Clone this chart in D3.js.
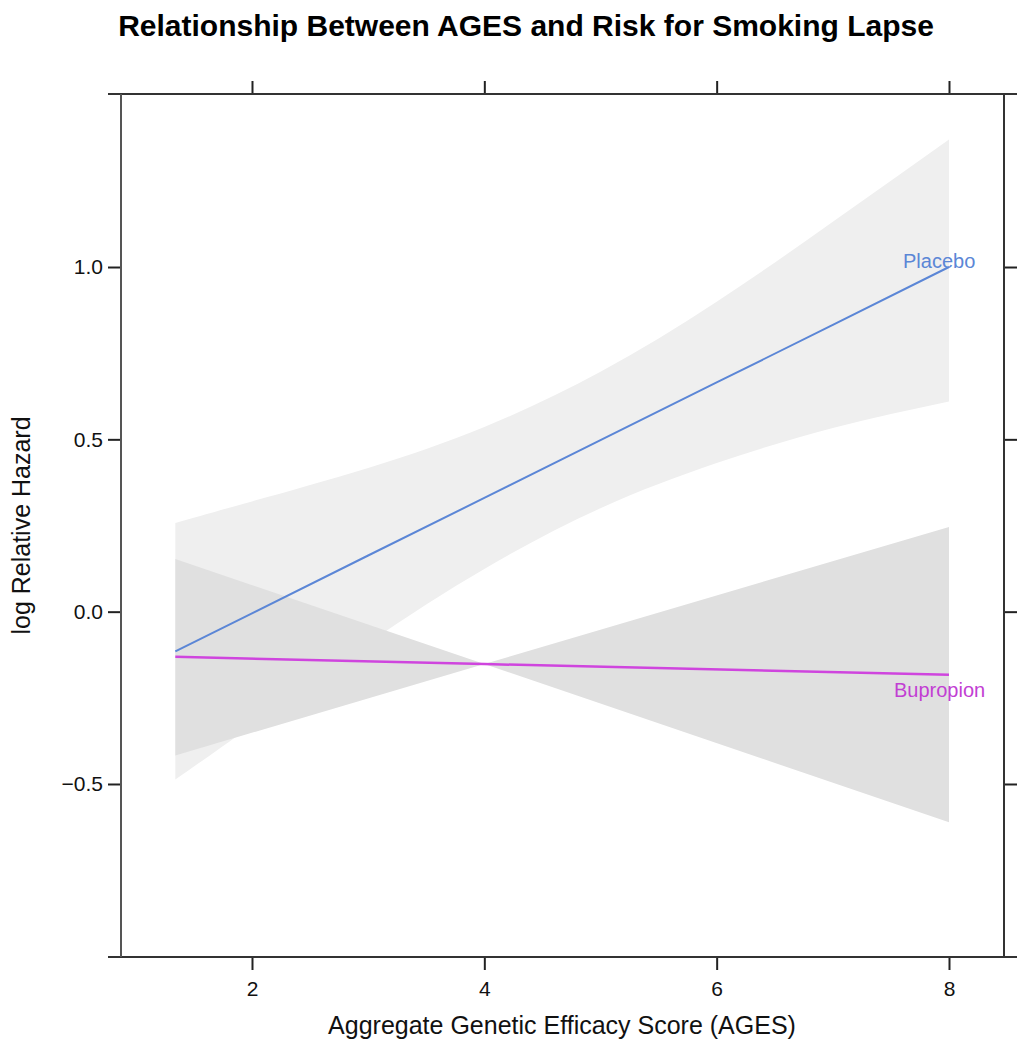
<!DOCTYPE html>
<html>
<head>
<meta charset="utf-8">
<script src="https://cdn.jsdelivr.net/npm/d3@7"></script>
<style>
  html, body { margin: 0; padding: 0; background: #fff; }
  svg { display: block; font-family: "Liberation Sans", Arial, Helvetica, sans-serif; }
</style>
</head>
<body>
<svg id="chart" width="1017" height="1050"></svg>
<script>
// ---- Data ----
const ages = [1.34, 2, 3, 4, 5, 6, 7, 8];
const placeboFit   = [-0.115, -0.005, 0.163, 0.330, 0.498, 0.665, 0.832, 1.000];
const placeboUpper = [0.257, 0.320, 0.417, 0.536, 0.696, 0.899, 1.131, 1.370];
const placeboLower = [-0.487, -0.330, -0.091, 0.124, 0.300, 0.431, 0.533, 0.610];

const bupAges  = [1.34, 4, 8];
const bupFit   = [-0.131, -0.152, -0.183];
const bupUpper = [0.153, -0.152, 0.246];
const bupLower = [-0.417, -0.152, -0.611];

const xTicks = [2, 4, 6, 8];
const yTicks = [-0.5, 0.0, 0.5, 1.0];
const seriesNames = ["Placebo", "Bupropion"];

const titleText = "Relationship Between AGES and Risk for Smoking Lapse";
const xLabel = "Aggregate Genetic Efficacy Score (AGES)";
const yLabel = "log Relative Hazard";

// ---- Layout ----
const L = 121, R = 1004, T = 94, B = 957;
const svg = d3.select("#chart");

const x = d3.scaleLinear().domain([0.8724, 8.4735]).range([L, R]);
const y = d3.scaleLinear().domain([-1.002, 1.502]).range([B, T]);

const placeboData = ages.map((a, i) => ({x: a, fit: placeboFit[i], lo: placeboLower[i], hi: placeboUpper[i]}));
const bupData = bupAges.map((a, i) => ({x: a, fit: bupFit[i], lo: bupLower[i], hi: bupUpper[i]}));

// bands
const bandCurved = d3.area().x(d => x(d.x)).y0(d => y(d.lo)).y1(d => y(d.hi)).curve(d3.curveNatural);
const bandLinear = d3.area().x(d => x(d.x)).y0(d => y(d.lo)).y1(d => y(d.hi));

svg.append("path").datum(placeboData).attr("d", bandCurved).attr("fill", "#efefef");
svg.append("path").datum(bupData).attr("d", bandLinear).attr("fill", "#e0e0e0");

// lines
const fitLine = d3.line().x(d => x(d.x)).y(d => y(d.fit));
svg.append("path").datum(placeboData).attr("d", fitLine)
  .attr("fill", "none").attr("stroke", "#5b86d6").attr("stroke-width", 2);
svg.append("path").datum(bupData).attr("d", fitLine)
  .attr("fill", "none").attr("stroke", "#cf45de").attr("stroke-width", 2.5);

// series labels
svg.append("text").attr("x", 903).attr("y", 268).attr("font-size", 20)
  .attr("fill", "#5b86d6").text(seriesNames[0]);
svg.append("text").attr("x", 894).attr("y", 697).attr("font-size", 20)
  .attr("fill", "#c23ed3").text(seriesNames[1]);

// axes (ticks outward, all four sides)
const tickLen = 13;
const axB = d3.axisBottom(x).tickValues(xTicks).tickSize(tickLen).tickPadding(11).tickFormat(d3.format("d"));
const axT = d3.axisTop(x).tickValues(xTicks).tickSize(tickLen).tickFormat("");
const axL = d3.axisLeft(y).tickValues(yTicks).tickSize(tickLen).tickPadding(5)
  .tickFormat(d => d3.format(".1f")(d).replace("-", "\u2212"));
const axRt = d3.axisRight(y).tickValues(yTicks).tickSize(tickLen).tickFormat("");

function styleAxis(g) {
  g.select(".domain").remove();
  g.selectAll(".tick line").attr("stroke", "#222").attr("stroke-width", 2);
  g.selectAll(".tick text").attr("fill", "#111").attr("font-size", 21)
    .attr("font-family", "Liberation Sans, Arial, Helvetica, sans-serif");
}
svg.append("g").attr("transform", `translate(0,${B})`).call(axB).call(styleAxis);
svg.append("g").attr("transform", `translate(0,${T})`).call(axT).call(styleAxis);
svg.append("g").attr("transform", `translate(${L},0)`).call(axL).call(styleAxis);
svg.append("g").attr("transform", `translate(${R},0)`).call(axRt).call(styleAxis);

// frame
const frame = svg.append("g").attr("stroke", "#333").attr("stroke-width", 2).attr("fill", "none");
frame.append("line").attr("x1", L - tickLen).attr("x2", R + tickLen).attr("y1", T).attr("y2", T);
frame.append("line").attr("x1", L - tickLen).attr("x2", R + tickLen).attr("y1", B).attr("y2", B);
frame.append("line").attr("x1", L).attr("x2", L).attr("y1", T).attr("y2", B).attr("stroke", "#555");
frame.append("line").attr("x1", R).attr("x2", R).attr("y1", T).attr("y2", B);

// title and axis labels
svg.append("text").attr("x", 526).attr("y", 36).attr("text-anchor", "middle")
  .attr("font-size", 30).attr("font-weight", "bold").attr("fill", "#000").text(titleText);
svg.append("text").attr("x", 562).attr("y", 1034).attr("text-anchor", "middle")
  .attr("font-size", 25).attr("fill", "#111").text(xLabel);
svg.append("text").attr("transform", `translate(30,${(T + B) / 2}) rotate(-90)`)
  .attr("text-anchor", "middle").attr("font-size", 25).attr("fill", "#111").text(yLabel);
</script>
</body>
</html>
